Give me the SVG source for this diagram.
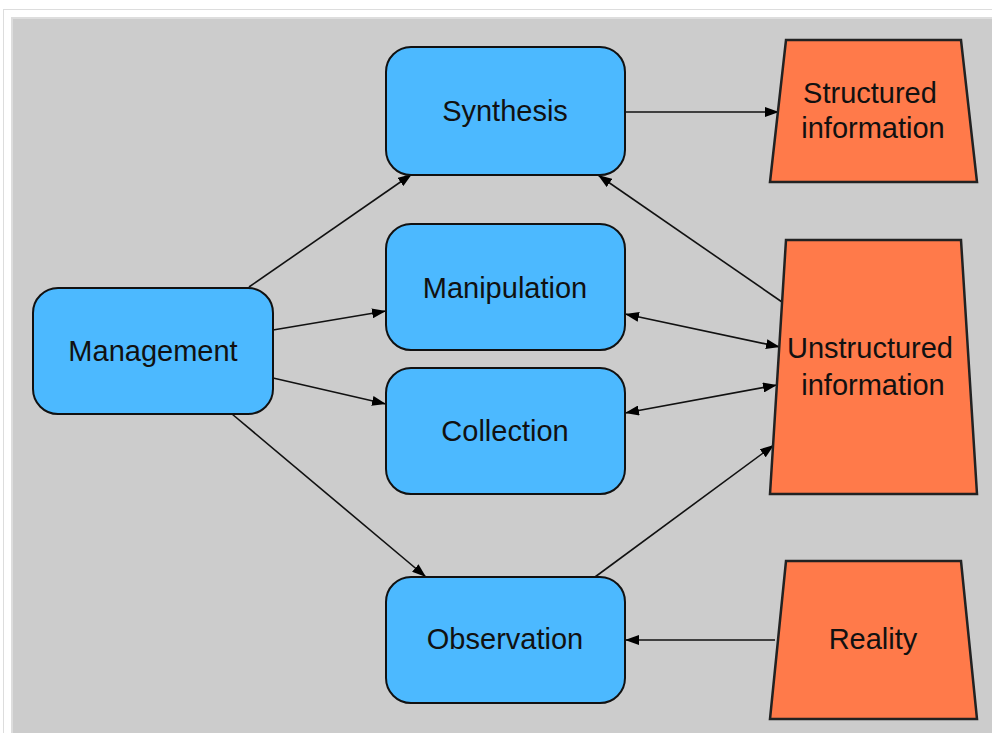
<svg xmlns="http://www.w3.org/2000/svg" width="992" height="733" viewBox="0 0 992 733">
<style>
.proc{fill:#4cb9ff;stroke:#111;stroke-width:2}
.store{fill:#ff7a4a;stroke:#222;stroke-width:2.5}
.lbl{font-family:"Liberation Sans",Arial,sans-serif;font-size:29px;fill:#111;text-anchor:middle}
.edge{stroke:#111;stroke-width:1.6;fill:none}
</style>
<defs>
<marker id="ah" viewBox="0 0 14 10" refX="14" refY="5" markerWidth="14" markerHeight="10" markerUnits="userSpaceOnUse" orient="auto-start-reverse">
<path d="M0,0 L14,5 L0,10 z" fill="#000"/>
</marker>
</defs>
<rect x="0" y="0" width="992" height="733" fill="#fff"/>
<line x1="3" y1="9.5" x2="992" y2="9.5" stroke="#ddd" stroke-width="1"/>
<line x1="3.5" y1="9" x2="3.5" y2="733" stroke="#ddd" stroke-width="1"/>
<rect x="11" y="17" width="981" height="716" fill="#ddd"/>
<rect x="13" y="19" width="979" height="714" fill="#cccccc"/>
<g id="connectors">
<line class="edge" x1="249" y1="287" x2="412" y2="174" marker-end="url(#ah)"/>
<line class="edge" x1="273" y1="330" x2="386" y2="311" marker-end="url(#ah)"/>
<line class="edge" x1="273" y1="378" x2="386" y2="404" marker-end="url(#ah)"/>
<line class="edge" x1="232" y1="414" x2="426" y2="577" marker-end="url(#ah)"/>
<line class="edge" x1="625" y1="112" x2="779" y2="112" marker-end="url(#ah)"/>
<line class="edge" x1="782" y1="302" x2="598" y2="175" marker-end="url(#ah)"/>
<line class="edge" x1="625" y1="314" x2="780" y2="347" marker-start="url(#ah)" marker-end="url(#ah)"/>
<line class="edge" x1="625" y1="413" x2="777" y2="385" stroke-width="2.2" marker-start="url(#ah)" marker-end="url(#ah)"/>
<line class="edge" x1="595" y1="577" x2="774" y2="445" marker-end="url(#ah)"/>
<line class="edge" x1="775" y1="640" x2="625" y2="640" marker-end="url(#ah)"/>
</g>
<g id="management">
<rect class="proc" x="33" y="288" width="240" height="126" rx="25"/>
<text class="lbl" x="153" y="361">Management</text>
</g>
<g id="synthesis">
<rect class="proc" x="386" y="47" width="239" height="128" rx="25"/>
<text class="lbl" x="505" y="121">Synthesis</text>
</g>
<g id="manipulation">
<rect class="proc" x="386" y="224" width="239" height="126" rx="25"/>
<text class="lbl" x="505" y="298">Manipulation</text>
</g>
<g id="collection">
<rect class="proc" x="386" y="368" width="239" height="126" rx="25"/>
<text class="lbl" x="505" y="441">Collection</text>
</g>
<g id="observation">
<rect class="proc" x="386" y="577" width="239" height="126" rx="25"/>
<text class="lbl" x="505" y="649">Observation</text>
</g>
<g id="structured">
<polygon class="store" points="786,40 961,40 977,182 770,182"/>
<text class="lbl" x="870" y="103">Structured</text>
<text class="lbl" x="873" y="138">information</text>
</g>
<g id="unstructured">
<polygon class="store" points="786,240 961,240 977,494 770,494"/>
<text class="lbl" x="870" y="358">Unstructured</text>
<text class="lbl" x="873" y="395">information</text>
</g>
<g id="reality">
<polygon class="store" points="786,561 961,561 977,719 770,719"/>
<text class="lbl" x="873" y="649">Reality</text>
</g>
</svg>
